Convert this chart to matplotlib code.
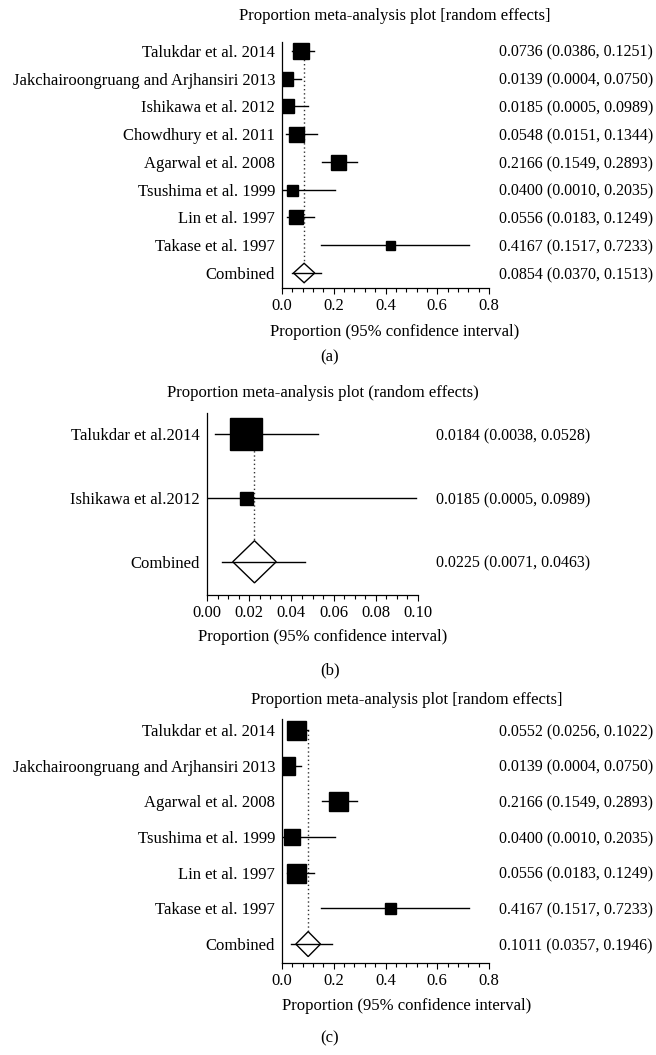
import matplotlib
matplotlib.use("Agg")
import matplotlib.pyplot as plt
from matplotlib.patches import Polygon
from matplotlib.ticker import MultipleLocator, FormatStrFormatter
import matplotlib.transforms as mtransforms

plt.rcParams['font.family'] = ['Liberation Serif', 'DejaVu Serif']
plt.rcParams['font.size'] = 12

# ---- datos (a)
studies_a = ["Talukdar et al. 2014", "Jakchairoongruang and Arjhansiri 2013",
             "Ishikawa et al. 2012", "Chowdhury et al. 2011", "Agarwal et al. 2008",
             "Tsushima et al. 1999", "Lin et al. 1997", "Takase et al. 1997"]
est_a = [0.0736, 0.0139, 0.0185, 0.0548, 0.2166, 0.0400, 0.0556, 0.4167]
lo_a = [0.0386, 0.0004, 0.0005, 0.0151, 0.1549, 0.0010, 0.0183, 0.1517]
hi_a = [0.1251, 0.0750, 0.0989, 0.1344, 0.2893, 0.2035, 0.1249, 0.7233]
weight_a = [16, 14, 14, 15, 15, 11, 14, 9]
comb_a = (0.0854, 0.0370, 0.1513)

# ---- datos (b)
studies_b = ["Talukdar et al.2014", "Ishikawa et al.2012"]
est_b = [0.0184, 0.0185]
lo_b = [0.0038, 0.0005]
hi_b = [0.0528, 0.0989]
weight_b = [32, 13]
comb_b = (0.0225, 0.0071, 0.0463)

# ---- datos (c)
studies_c = ["Talukdar et al. 2014", "Jakchairoongruang and Arjhansiri 2013",
             "Agarwal et al. 2008", "Tsushima et al. 1999", "Lin et al. 1997",
             "Takase et al. 1997"]
est_c = [0.0552, 0.0139, 0.2166, 0.0400, 0.0556, 0.4167]
lo_c = [0.0256, 0.0004, 0.1549, 0.0010, 0.0183, 0.1517]
hi_c = [0.1022, 0.0750, 0.2893, 0.2035, 0.1249, 0.7233]
weight_c = [19, 18, 19, 16, 19, 11]
comb_c = (0.1011, 0.0357, 0.1946)

W, H = 656, 1055
fig = plt.figure(figsize=(W / 100, H / 100), dpi=100)


def forest(box, names, est, lo, hi, wt, comb, xmax, major, minor, fmt,
           dhalf, dh, ylim, val_x, title, title_x, title_y, lab_y, letter, letter_y):
    l, t, r, b = box
    ax = fig.add_axes([l / W, 1 - b / H, (r - l) / W, (b - t) / H])
    n = len(names)
    ys = list(range(n + 1))
    # lineas de los estudios
    for i in range(n):
        ax.plot([lo[i], hi[i]], [i, i], color='black', lw=1, zorder=2)
        ax.plot(est[i], i, marker='s', ms=wt[i] * 0.72, color='black', zorder=3)
    # combinado
    ce, cl, ch = comb
    ax.plot([ce, ce], [0, n - dh], color='#333333', lw=1, ls=(0, (1, 2)), zorder=1)
    dia = Polygon([[ce - dhalf, n], [ce, n - dh], [ce + dhalf, n], [ce, n + dh]],
                  closed=True, facecolor='white', edgecolor='black', lw=1, zorder=2)
    ax.add_patch(dia)
    ax.plot([cl, ch], [n, n], color='black', lw=1, zorder=3)

    ax.set_xlim(0, xmax)
    ax.set_ylim(*ylim)
    ax.set_yticks(ys)
    ax.set_yticklabels(names + ["Combined"])
    ax.tick_params(axis='y', length=0, pad=5)
    ax.set_xticks(major)
    ax.xaxis.set_major_formatter(FormatStrFormatter(fmt))
    ax.xaxis.set_minor_locator(MultipleLocator(minor))
    ax.tick_params(axis='x', which='major', length=4.5, width=0.8, pad=3)
    ax.tick_params(axis='x', which='minor', length=3, width=0.8)
    for s in ['top', 'right']:
        ax.spines[s].set_visible(False)
    for s in ['left', 'bottom']:
        ax.spines[s].set_linewidth(0.9)

    tr = mtransforms.blended_transform_factory(fig.transFigure, ax.transData)
    vals = [f"{e:.4f} ({a:.4f}, {c:.4f})" for e, a, c in zip(est, lo, hi)]
    vals.append(f"{ce:.4f} ({cl:.4f}, {ch:.4f})")
    for i, v in enumerate(vals):
        ax.text(val_x / W, i, v, transform=tr, ha='left', va='center_baseline',
                fontsize=11.5)

    fig.text(title_x / W, 1 - title_y / H, title, ha='center', va='center')
    fig.text(title_x / W, 1 - lab_y / H, "Proportion (95% confidence interval)",
             ha='center', va='center')
    fig.text(330 / W, 1 - letter_y / H, letter, ha='center', va='center')
    return ax


forest((282, 42, 489, 288), studies_a, est_a, lo_a, hi_a, weight_a, comb_a,
       0.8, [0, 0.2, 0.4, 0.6, 0.8], 0.04, '%.1f', 0.041, 0.35, (8.54, -0.32),
       499, "Proportion meta-analysis plot [random effects]", 395, 16, 332, "(a)", 357)

forest((207, 413, 418, 595), studies_b, est_b, lo_b, hi_b, weight_b, comb_b,
       0.10, [0, 0.02, 0.04, 0.06, 0.08, 0.10], 0.005, '%.2f', 0.0103, 0.33, (2.52, -0.33),
       436, "Proportion meta-analysis plot (random effects)", 323, 393, 637, "(b)", 670)

forest((282, 719, 489, 963), studies_c, est_c, lo_c, hi_c, weight_c, comb_c,
       0.8, [0, 0.2, 0.4, 0.6, 0.8], 0.04, '%.1f', 0.0477, 0.35, (6.53, -0.31),
       499, "Proportion meta-analysis plot [random effects]", 407, 700, 1006, "(c)", 1038)

fig.savefig("out.png", dpi=100)
